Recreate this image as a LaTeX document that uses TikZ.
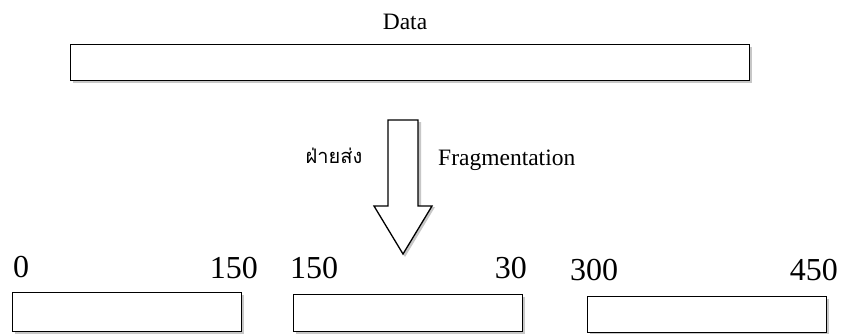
\documentclass[tikz,border=0pt]{standalone}
\usepackage{fontspec}
\setmainfont{Liberation Serif}
\newfontfamily\thaifont[Script=Thai]{Loma}
\begin{document}
\begin{tikzpicture}[x=1pt,y=-1pt,
  box/.style={draw=black, line width=1.4pt, fill=white, inner sep=0pt},
  shadow/.style={fill=black!22},
  num/.style={font=\fontsize{32}{34}\selectfont, inner sep=0pt},
  small/.style={font=\fontsize{23.5}{25}\selectfont, inner sep=0pt}]
\useasboundingbox[fill=white] (0,0) rectangle (845,333);
% Data box
\fill[shadow] (73,47) rectangle (752,83);
\node[box, minimum width=679pt, minimum height=36pt, anchor=north west] (data) at (70,44) {};
\node[small, anchor=base] (datalbl) at (405,29) {Data};
% block arrow
\fill[shadow] (418,122) -- (421,122) -- (421,207) -- (435,207) -- (405,257) -- (403,254) -- (432,206) -- (418,206) -- cycle;
\draw[line width=1.3pt, fill=white, line join=miter]
  (388,120) -- (418,120) -- (418,206) -- (432,206) -- (403,254) -- (374,206) -- (388,206) -- cycle;
\node[anchor=base, inner sep=0pt, font=\thaifont\fontsize{20}{22}\selectfont] (sender) at (334,163) {ฝ่ายส่ง};
\node[small, anchor=base west] (frag) at (438,165) {Fragmentation};
% fragments
\fill[shadow] (15,295) rectangle (244,334);
\fill[shadow] (296,297) rectangle (525,334);
\fill[shadow] (590,299) rectangle (829,334);
\node[box, minimum width=229pt, minimum height=39pt, anchor=north west] (f1) at (12,292) {};
\node[box, minimum width=229pt, minimum height=37pt, anchor=north west] (f2) at (293,294) {};
\node[box, minimum width=239pt, minimum height=36pt, anchor=north west] (f3) at (587,296) {};
\node[num, anchor=base west] (a0) at (13,277) {0};
\node[num, anchor=base east] (a1) at (258,278) {150};
\node[num, anchor=base west] (b0) at (290,278) {150};
\node[num, anchor=base east] (b1) at (527,278) {30};
\node[num, anchor=base west] (c0) at (570,280) {300};
\node[num, anchor=base east] (c1) at (838,280) {450};
\end{tikzpicture}
\end{document}
